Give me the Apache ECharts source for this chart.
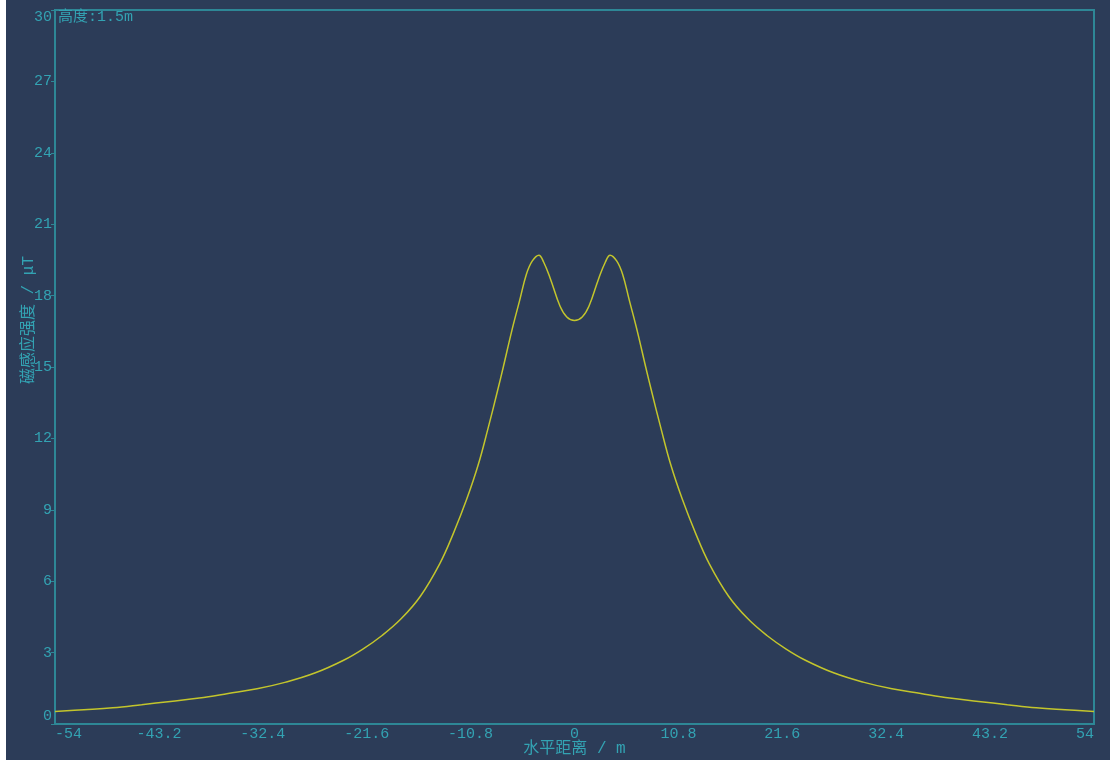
<!DOCTYPE html>
<html>
<head>
<meta charset="utf-8">
<script src="https://cdn.jsdelivr.net/npm/echarts@6/dist/echarts.min.js"></script>
<style>
html,body{margin:0;padding:0;background:#ffffff;width:1110px;height:760px;overflow:hidden;}
#chart{position:absolute;left:6px;top:0;width:1104px;height:760px;}
</style>
</head>
<body>
<div id="chart"></div>
<script>
// Horizontal distance (m), left half (curve is symmetric)
const leftX = [-54, -51, -48, -45, -42, -39, -36, -33, -30, -27, -24, -22, -20, -18, -16, -14, -12.6, -11.2, -10, -9, -8, -7.4, -6.5, -5.7, -5, -4.4, -3.7, -3.2, -2.5, -1.5, -0.8, 0];
// Magnetic flux density (μT)
const leftV = [0.53, 0.60, 0.68, 0.81, 0.95, 1.09, 1.28, 1.48, 1.76, 2.14, 2.68, 3.15, 3.72, 4.43, 5.38, 6.74, 8.00, 9.45, 10.90, 12.40, 14.00, 15.00, 16.55, 17.80, 18.90, 19.45, 19.70, 19.40, 18.70, 17.55, 17.10, 16.95];
const xTicks = ['-54', '-43.2', '-32.4', '-21.6', '-10.8', '0', '10.8', '21.6', '32.4', '43.2', '54'];
const yTicks = ['0', '3', '6', '9', '12', '15', '18', '21', '24', '27', '30'];
const heightLabel = '高度:1.5m';
const xName = '水平距离 / m';
const yName = '磁感应强度 / μT';

const points = [];
for (let i = 0; i < leftX.length; i++) points.push([leftX[i], leftV[i]]);
for (let i = leftX.length - 2; i >= 0; i--) points.push([-leftX[i], leftV[i]]);

const FONT = "'Liberation Mono', 'Noto Sans CJK SC', monospace";
const TXT = '#33a3b3';
const AX = '#2e8796';

const chart = echarts.init(document.getElementById('chart'));
chart.setOption({
  backgroundColor: '#2c3c58',
  animation: false,
  grid: { left: 49, right: 16, top: 10, bottom: 36, show: true, borderColor: AX, borderWidth: 2, containLabel: false, outerBoundsMode: 'none' },
  graphic: [{
    type: 'text', left: 52, top: 10,
    style: { text: heightLabel, fill: TXT, font: "15px " + FONT }
  }],
  xAxis: {
    type: 'value', min: -54, max: 54, interval: 10.8,
    name: xName, nameLocation: 'middle', nameGap: 17, nameMoveOverlap: false,
    nameTextStyle: { color: TXT, fontSize: 16, fontFamily: FONT },
    axisLine: { show: true, onZero: false, lineStyle: { color: AX, width: 2 } },
    axisTick: { show: false },
    splitLine: { show: false },
    axisLabel: {
      color: TXT, fontSize: 15, fontFamily: FONT, margin: 3,
      alignMinLabel: 'left', alignMaxLabel: 'right',
      formatter: function (v) { const i = Math.round((v + 54) / 10.8); return xTicks[i]; }
    }
  },
  yAxis: {
    type: 'value', min: 0, max: 30, interval: 3,
    name: yName, nameLocation: 'middle', nameGap: 18, nameRotate: 90, nameMoveOverlap: false,
    nameTextStyle: { color: TXT, fontSize: 16, fontFamily: FONT, padding: [0, 0, 0, 94] },
    axisLine: { show: true, onZero: false, lineStyle: { color: AX, width: 2 } },
    axisTick: { show: true, length: 4, lineStyle: { color: AX } },
    splitLine: { show: false },
    axisLabel: {
      color: TXT, fontSize: 15, fontFamily: FONT, margin: 3,
      verticalAlignMinLabel: 'bottom', verticalAlignMaxLabel: 'top',
      formatter: function (v) { return yTicks[Math.round(v / 3)]; }
    }
  },
  series: [{
    type: 'line', data: points, smooth: 0.4, showSymbol: false,
    lineStyle: { color: '#c3c52c', width: 1.5 }
  }]
});
</script>
</body>
</html>
